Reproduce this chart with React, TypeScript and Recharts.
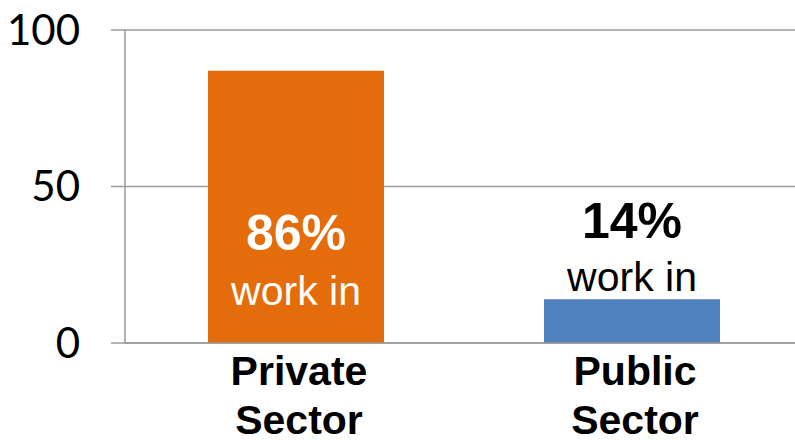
import React from "react";
import { BarChart, Bar, XAxis, YAxis, CartesianGrid, Cell, LabelList } from "recharts";

const categories = ["Private Sector", "Public Sector"];
const shares = [87, 14];
const shareLabels = ["86%", "14%"];
const subLabel = "work in";
const yTicks = [0, 50, 100];
const barColors = ["#E46C0A", "#4F81BD"];

const data = categories.map((c, i) => ({ name: c, value: shares[i], label: shareLabels[i] }));

const CategoryTick = (props: any) => {
  const { x, y, payload } = props;
  const lines = String(payload.value).split(" ");
  return (
    <g>
      {lines.map((l, i) => (
        <text
          key={i}
          x={x + 3}
          y={y + 42 + i * 49}
          textAnchor="middle"
          fontFamily="'Liberation Sans', Arial, sans-serif"
          fontWeight="bold"
          fontSize={41}
          fill="#000"
        >
          {l}
        </text>
      ))}
    </g>
  );
};

const BarLabel = (props: any) => {
  const { x, y, width, height, index } = props;
  const inside = shares[index] > 50;
  const cx = x + width / 2;
  const fill = inside ? "#fff" : "#000";
  const pctY = inside ? y + height - 93 : y - 61;
  const subY = inside ? y + height - 38 : y - 8;
  return (
    <g>
      <text x={cx} y={pctY} textAnchor="middle" fontFamily="'Liberation Sans', Arial, sans-serif" fontWeight="bold" fontSize={50} fill={fill}>
        {shareLabels[index]}
      </text>
      <text x={cx} y={subY} textAnchor="middle" fontFamily="'Liberation Sans', Arial, sans-serif" fontSize={41} fill={fill}>
        {subLabel}
      </text>
    </g>
  );
};

export default function App() {
  return (
    <div style={{ position: "absolute", left: 0, top: 0, width: 795, height: 440, overflow: "hidden", background: "#fff" }}>
      <BarChart width={812} height={440} data={data} margin={{ top: 30, right: 12, bottom: 0, left: 0 }}>
        <CartesianGrid vertical={false} stroke="#9a9a9a" strokeWidth={1.5} />
        <XAxis
          dataKey="name"
          height={97}
          tickSize={0}
          tickMargin={0}
          tickLine={false}
          padding={{ left: 3, right: 0 }}
          axisLine={{ stroke: "#9a9a9a", strokeWidth: 1.5 }}
          tick={<CategoryTick />}
          interval={0}
        />
        <YAxis
          domain={[0, 100]}
          ticks={yTicks}
          width={125}
          tickSize={14}
          tickMargin={31}
          axisLine={{ stroke: "#9a9a9a", strokeWidth: 1.5 }}
          tickLine={{ stroke: "#9a9a9a", strokeWidth: 1.5 }}
          tick={{ fontFamily: "Lato, 'Noto Sans', sans-serif", fontSize: 42, fill: "#000" }}
        />
        <Bar dataKey="value" barSize={176} isAnimationActive={false}>
          {data.map((d, i) => (
            <Cell key={i} fill={barColors[i]} />
          ))}
          <LabelList dataKey="value" content={<BarLabel />} />
        </Bar>
      </BarChart>
    </div>
  );
}
